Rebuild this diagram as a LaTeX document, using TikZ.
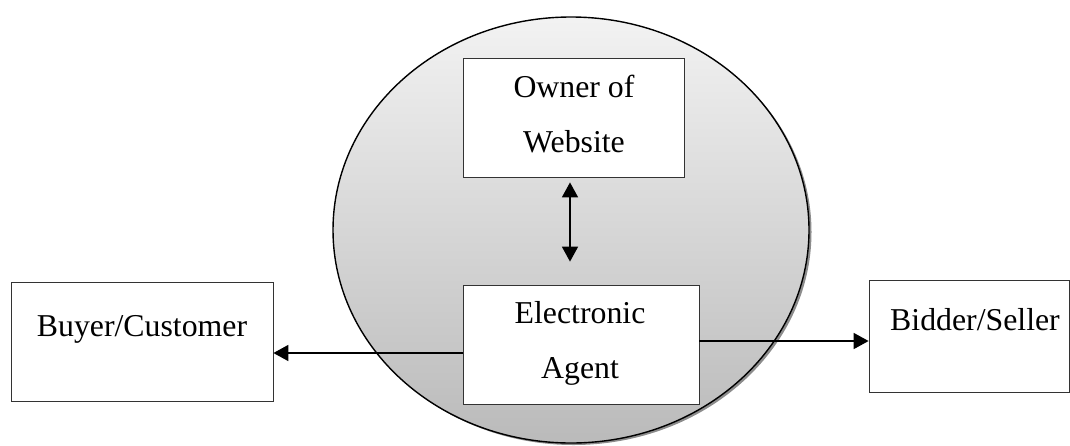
\documentclass[tikz,border=0pt]{standalone}
\usepackage{fontspec}
\setmainfont{Liberation Serif}
\usetikzlibrary{arrows.meta}
\begin{document}
\begin{tikzpicture}[x=1pt,y=-1pt,
  box/.style={draw=black!80, line width=0.8pt, fill=white, inner sep=0pt},
  lbl/.style={inner sep=0pt, anchor=base, font=\fontsize{31.8}{55}\selectfont},
  conn/.style={line width=1.7pt, -{Triangle[length=15pt,width=16pt]}},
  dconn/.style={line width=1.7pt, {Triangle[length=15pt,width=16pt]}-{Triangle[length=15pt,width=16pt]}}]
\useasboundingbox (0,0) rectangle (1070,445);
% circle with shadow and gradient
\fill[black!45] (573.5,232) ellipse [x radius=238pt, y radius=213pt];
\shade[top color=black!5, bottom color=black!27, draw=black, line width=1.4pt]
  (571,230) ellipse [x radius=238pt, y radius=213pt];
% boxes
\node[box, minimum width=221pt, minimum height=119pt] (owner) at (573.5,117.5) {};
\node[box, minimum width=236pt, minimum height=119pt] (agent) at (581,344.5) {};
\node[box, minimum width=262pt, minimum height=119pt] (buyer) at (142,341.5) {};
\node[box, minimum width=200pt, minimum height=112pt] (bidder) at (969,336.5) {};
% texts
\node[lbl] (ownerA) at (574,97) {Owner of};
\node[lbl] (ownerB) at (574,152) {Website};
\node[lbl] (agentA) at (580,323) {Electronic};
\node[lbl] (agentB) at (580,378) {Agent};
\node[lbl] (buyerT) at (142,336) {Buyer/Customer};
\node[lbl] (bidderT) at (975,330) {Bidder/Seller};
% connectors
\coordinate (aw) at ([yshift=-8.5pt]agent.west);
\coordinate (ae) at ([yshift=3.5pt]agent.east);
\draw[conn] (aw) -- (aw -| buyer.east);
\draw[conn] (ae) -- (ae -| bidder.west);
\draw[dconn] ([shift={(-3.5pt,-5pt)}]owner.south) -- ([shift={(-11pt,23pt)}]agent.north);
\end{tikzpicture}
\end{document}
